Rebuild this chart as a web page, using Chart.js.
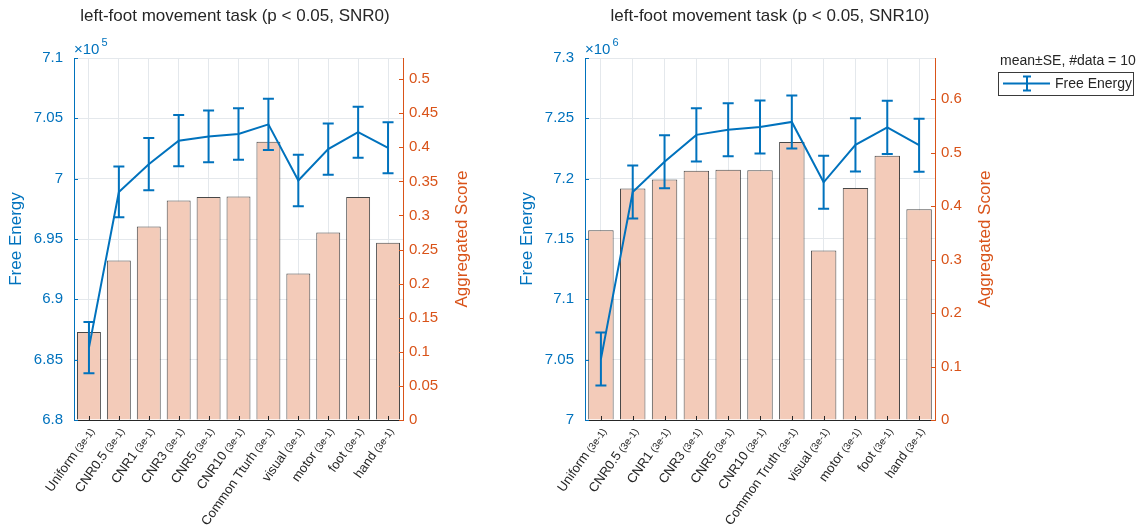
<!DOCTYPE html>
<html>
<head>
<meta charset="utf-8">
<script src="https://cdn.jsdelivr.net/npm/chart.js@4.4.1/dist/chart.umd.min.js"></script>
<style>
  body { margin: 0; background: #fff; }
  #wrap { position: relative; width: 1145px; height: 529px; }
  canvas { position: absolute; top: 0; }
</style>
</head>
<body>
<div id="wrap">
  <canvas id="left" width="500" height="529" style="left:0"></canvas>
  <canvas id="right" width="645" height="529" style="left:500px"></canvas>
</div>
<script>
// categories (left panel has the "Tturh" typo from the original)
const categoriesSnr0 = ["Uniform", "CNR0.5", "CNR1", "CNR3", "CNR5", "CNR10", "Common Tturh", "visual", "motor", "foot", "hand"]
const categoriesSnr10 = ["Uniform", "CNR0.5", "CNR1", "CNR3", "CNR5", "CNR10", "Common Truth", "visual", "motor", "foot", "hand"]
const labelSuffix = "(3e-1)"

// SNR0: free energy in units of 1e5
const snr0Energy = [6.860, 6.989, 7.012, 7.0315, 7.035, 7.037, 7.045, 6.9985, 7.0245, 7.0385, 7.0256]
const snr0EnergySE = [0.0213, 0.021, 0.0216, 0.0213, 0.0214, 0.0214, 0.0212, 0.0213, 0.0212, 0.0212, 0.0212]
const snr0Score = [0.129, 0.234, 0.284, 0.322, 0.327, 0.328, 0.408, 0.215, 0.275, 0.327, 0.260]

// SNR10: free energy in units of 1e6
const snr10Energy = [7.0505, 7.189, 7.214, 7.2363, 7.2405, 7.2428, 7.247, 7.197, 7.228, 7.2425, 7.2277]
const snr10EnergySE = [0.022, 0.022, 0.022, 0.022, 0.022, 0.022, 0.022, 0.022, 0.022, 0.022, 0.022]
const snr10Score = [0.355, 0.433, 0.450, 0.466, 0.468, 0.467, 0.520, 0.317, 0.434, 0.494, 0.394]

const BLUE = "#0072BD"
const ORANGE = "#D95319"
const DARK = "#262626"
const GRID = "#e4e8ec"
const FONT = '"Liberation Sans", Arial, Helvetica, sans-serif'

const errorBarPlugin = {
  id: "errorBars",
  afterDatasetsDraw(chart) {
    const ctx = chart.ctx
    const ds = chart.data.datasets[0]
    const meta = chart.getDatasetMeta(0)
    const y = chart.scales.y
    ctx.save()
    ctx.strokeStyle = BLUE
    ctx.lineWidth = 2
    meta.data.forEach((pt, i) => {
      const hi = y.getPixelForValue(ds.data[i] + ds.se[i])
      const lo = y.getPixelForValue(ds.data[i] - ds.se[i])
      ctx.beginPath()
      ctx.moveTo(pt.x, hi); ctx.lineTo(pt.x, lo)
      ctx.moveTo(pt.x - 5.5, hi); ctx.lineTo(pt.x + 5.5, hi)
      ctx.moveTo(pt.x - 5.5, lo); ctx.lineTo(pt.x + 5.5, lo)
      ctx.stroke()
    })
    ctx.restore()
  }
}

const decorPlugin = {
  id: "decor",
  afterDraw(chart, args, o) {
    const ctx = chart.ctx
    const { left, right, top, bottom } = chart.chartArea
    const midY = (top + bottom) / 2
    ctx.save()

    // title
    ctx.fillStyle = DARK
    ctx.font = `17px ${FONT}`
    ctx.textAlign = "center"
    ctx.textBaseline = "alphabetic"
    ctx.fillText(o.title, o.titleX, 21)

    // axis titles
    ctx.textBaseline = "middle"
    ctx.save()
    ctx.translate(o.yTitleX, midY)
    ctx.rotate(-Math.PI / 2)
    ctx.fillStyle = BLUE
    ctx.fillText("Free Energy", 0, 0)
    ctx.restore()
    ctx.save()
    ctx.translate(o.y1TitleX, midY)
    ctx.rotate(-Math.PI / 2)
    ctx.fillStyle = ORANGE
    ctx.fillText("Aggregated Score", 0, 0)
    ctx.restore()

    // exponent label
    ctx.textAlign = "left"
    ctx.textBaseline = "alphabetic"
    ctx.fillStyle = BLUE
    ctx.font = `15px ${FONT}`
    ctx.fillText("×10", left, 54)
    const ew = ctx.measureText("×10").width
    ctx.font = `11px ${FONT}`
    ctx.fillText(o.exponent, left + ew + 2, 46)

    // inward tick marks
    ctx.lineWidth = 1
    ctx.strokeStyle = BLUE
    chart.scales.y.ticks.forEach(t => {
      const py = Math.round(chart.scales.y.getPixelForValue(t.value)) + 0.5
      ctx.beginPath(); ctx.moveTo(left, py); ctx.lineTo(left + 4, py); ctx.stroke()
    })
    ctx.strokeStyle = ORANGE
    chart.scales.y1.ticks.forEach(t => {
      const py = Math.round(chart.scales.y1.getPixelForValue(t.value)) + 0.5
      ctx.beginPath(); ctx.moveTo(right, py); ctx.lineTo(right - 4, py); ctx.stroke()
    })
    const xs = chart.scales.x
    ctx.strokeStyle = DARK
    chart.data.labels.forEach((lab, i) => {
      const px = Math.round(xs.getPixelForValue(i)) + 0.5
      ctx.beginPath(); ctx.moveTo(px, bottom); ctx.lineTo(px, bottom - 4); ctx.stroke()
    })

    // rotated category labels with small suffix
    chart.data.labels.forEach((lab, i) => {
      const px = xs.getPixelForValue(i)
      ctx.save()
      ctx.translate(px + 3, bottom + 9)
      ctx.rotate(-55 * Math.PI / 180)
      ctx.textAlign = "right"
      ctx.textBaseline = "middle"
      ctx.fillStyle = DARK
      ctx.font = `10px ${FONT}`
      ctx.fillText(labelSuffix, 0, 1)
      const sw = ctx.measureText(labelSuffix).width
      ctx.font = `13px ${FONT}`
      ctx.fillText(lab, -sw - 3, 0)
      ctx.restore()
    })

    // legend
    if (o.legend) {
      const L = o.legend
      ctx.fillStyle = DARK
      ctx.font = `14px ${FONT}`
      ctx.textAlign = "left"
      ctx.textBaseline = "alphabetic"
      ctx.fillText("mean±SE, #data = 10", L.x + 2, L.y - 7)
      ctx.fillStyle = "#fff"
      ctx.fillRect(L.x, L.y, L.w, L.h)
      ctx.strokeStyle = "#3a3a3a"
      ctx.lineWidth = 1
      ctx.strokeRect(L.x + 0.5, L.y + 0.5, L.w, L.h)
      const cy = L.y + L.h / 2
      ctx.strokeStyle = BLUE
      ctx.lineWidth = 2
      ctx.beginPath()
      ctx.moveTo(L.x + 5, cy); ctx.lineTo(L.x + 52, cy)
      ctx.moveTo(L.x + 29, cy - 7); ctx.lineTo(L.x + 29, cy + 7)
      ctx.moveTo(L.x + 25, cy - 7); ctx.lineTo(L.x + 33, cy - 7)
      ctx.moveTo(L.x + 25, cy + 7); ctx.lineTo(L.x + 33, cy + 7)
      ctx.stroke()
      ctx.fillStyle = DARK
      ctx.textBaseline = "middle"
      ctx.fillText(L.text, L.x + 57, cy + 1)
    }
    ctx.restore()
  }
}

function makeChart(id, c) {
  return new Chart(document.getElementById(id), {
    data: {
      labels: c.labels,
      datasets: [
        {
          type: "line",
          label: "Free Energy",
          data: c.energy,
          se: c.se,
          yAxisID: "y",
          borderColor: BLUE,
          borderWidth: 2,
          pointRadius: 0,
          tension: 0,
          order: 0
        },
        {
          type: "bar",
          label: "Aggregated Score",
          data: c.score,
          yAxisID: "y1",
          backgroundColor: "rgb(243, 203, 185)",
          borderColor: "rgba(40, 40, 40, 0.85)",
          borderWidth: 1,
          categoryPercentage: 1,
          barPercentage: 0.8,
          order: 1
        }
      ]
    },
    options: {
      responsive: false,
      animation: false,
      events: [],
      layout: { padding: { top: 58, left: 0, right: 0, bottom: 0 } },
      scales: {
        x: {
          offset: true,
          grid: { offset: false, color: GRID, drawTicks: false },
          border: { color: DARK, width: 1 },
          ticks: { display: false },
          afterFit: s => { s.height = 109 }
        },
        y: {
          position: "left",
          min: c.energyMin,
          max: c.energyMax,
          ticks: {
            stepSize: 0.05,
            color: BLUE,
            font: { family: FONT, size: 15 },
            padding: 11,
            callback: v => +v.toFixed(2)
          },
          grid: { color: GRID, drawTicks: false },
          border: { color: BLUE },
          afterFit: s => { s.width = c.leftWidth }
        },
        y1: {
          position: "right",
          min: 0,
          max: c.scoreMax,
          ticks: {
            stepSize: c.scoreStep,
            includeBounds: false,
            color: ORANGE,
            font: { family: FONT, size: 15 },
            padding: 6,
            callback: v => +v.toFixed(2)
          },
          grid: { drawOnChartArea: false, drawTicks: false },
          border: { color: ORANGE },
          afterFit: s => { s.width = c.rightWidth }
        }
      },
      plugins: {
        legend: { display: false },
        tooltip: { enabled: false },
        decor: c.decor
      }
    },
    plugins: [errorBarPlugin, decorPlugin]
  })
}

makeChart("left", {
  labels: categoriesSnr0,
  energy: snr0Energy,
  se: snr0EnergySE,
  score: snr0Score,
  energyMin: 6.8,
  energyMax: 7.1,
  scoreMax: 0.531,
  scoreStep: 0.05,
  leftWidth: 74,
  rightWidth: 97,
  decor: {
    title: "left-foot movement task (p < 0.05, SNR0)",
    titleX: 235,
    yTitleX: 16,
    y1TitleX: 462,
    exponent: "5"
  }
})

makeChart("right", {
  labels: categoriesSnr10,
  energy: snr10Energy,
  se: snr10EnergySE,
  score: snr10Score,
  energyMin: 7.0,
  energyMax: 7.3,
  scoreMax: 0.677,
  scoreStep: 0.1,
  leftWidth: 85,
  rightWidth: 210,
  decor: {
    title: "left-foot movement task (p < 0.05, SNR10)",
    titleX: 270,
    yTitleX: 27,
    y1TitleX: 485,
    exponent: "6",
    legend: { x: 498, y: 72, w: 135, h: 23, text: "Free Energy" }
  }
})
</script>
</body>
</html>
